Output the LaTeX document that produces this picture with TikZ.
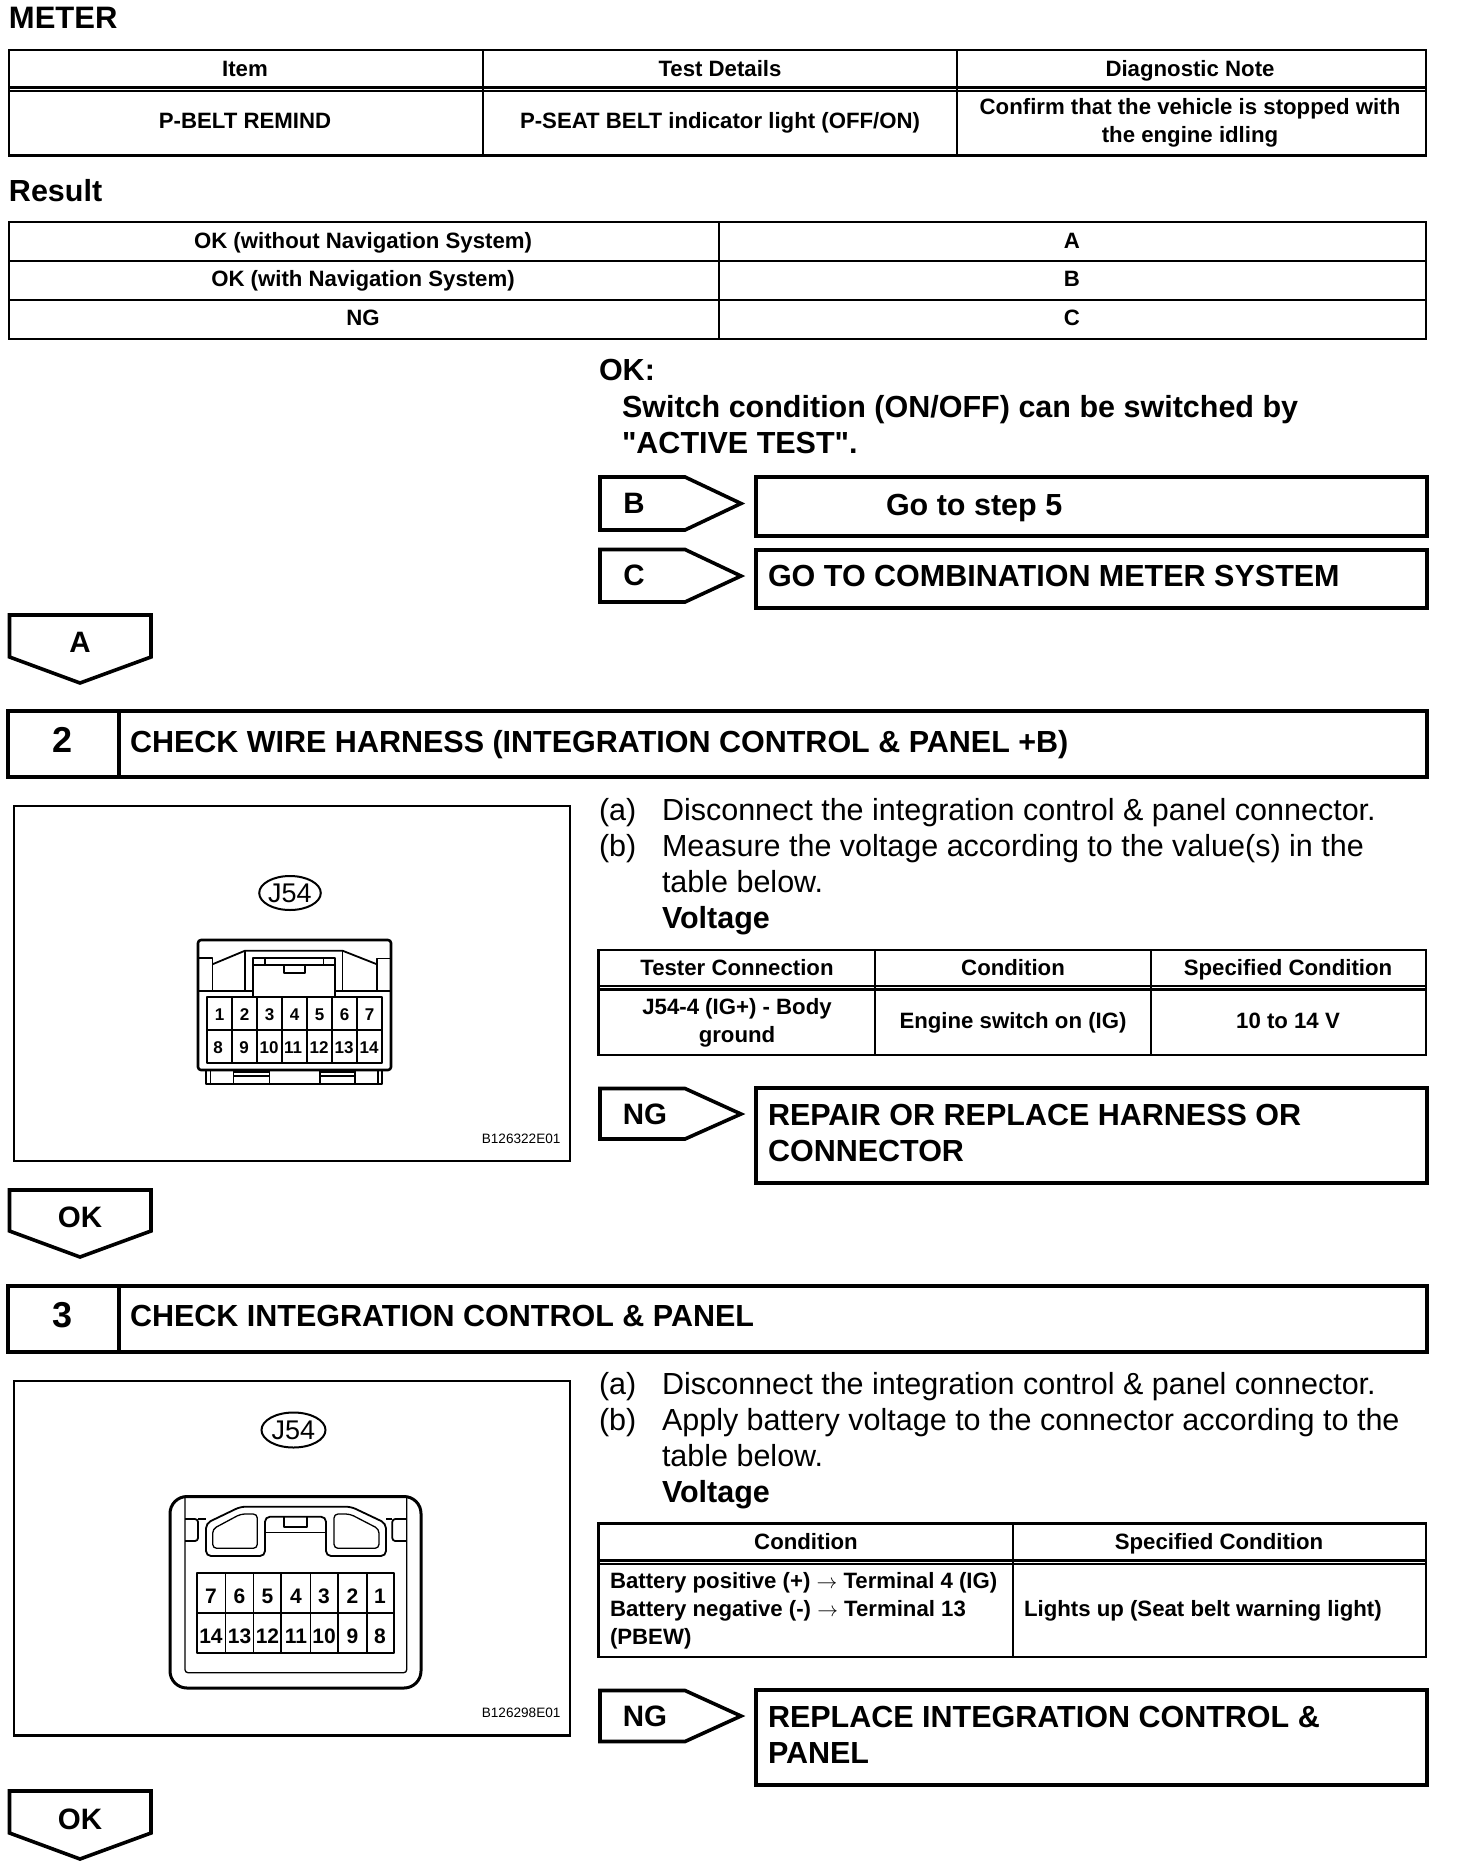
\documentclass[tikz,border=0pt]{standalone}
\usepackage{fontspec}
\setmainfont{Liberation Sans}
\newfontfamily\plainq{Liberation Sans}
\usetikzlibrary{shapes.geometric}
\newcommand{\fs}[1]{\fontsize{#1}{#1}\selectfont}
\tikzset{
  thinln/.style={line width=2.2pt,draw=black},
  heavy/.style={line width=4pt,draw=black,line join=miter},
  flagln/.style={line width=3.6pt,draw=black,line join=miter},
  part/.style={line width=1.8pt,draw=black,line join=round},
  fine/.style={line width=1.3pt,draw=black,line join=round},
  txt/.style={inner sep=0pt,outer sep=0pt,text=black},
  cell/.style={txt,anchor=mid,yshift=-5.2pt,font=\bfseries\fs{22.2},align=center},
  bw/.style={txt,anchor=mid west,yshift=-7.8pt,font=\bfseries\fs{30.5}},
  rw/.style={txt,anchor=mid west,yshift=-7.8pt,font=\fs{30.5}},
  cwl/.style={txt,anchor=mid west,yshift=-4.6pt,font=\bfseries\fs{22.2},align=left},
  flag/.style={txt,anchor=mid,yshift=-7.4pt,font=\bfseries\fs{29.5}},
  pinA/.style={txt,anchor=mid,yshift=-3.5pt,font=\bfseries\fs{17}},
  pinB/.style={txt,anchor=mid,yshift=-5pt,font=\bfseries\fs{21}},
  stepnum/.style={txt,anchor=mid,yshift=-9.5pt,font=\bfseries\fs{36}},
  code/.style={txt,anchor=mid east,yshift=-2pt,font=\fs{13.6}},
  jlabel/.style={ellipse,draw=black,line width=2pt,inner sep=0pt,font=\fs{27},text=black},
}
\begin{document}
\begin{tikzpicture}[x=1pt,y=-1pt]
\useasboundingbox (0,0) rectangle (1456,1876);
\fill[white] (0,0) rectangle (1456,1876);

% --- top table
\node[bw,font=\bfseries\fs{31}] (meter) at (9,18) {METER};
\draw[thinln] (9,50) rectangle (1426,155.5);
\draw[thinln] (9,87.5) -- (1426,87.5) (9,91) -- (1426,91);
\draw[thinln] (483,50) -- (483,155.5) (957,50) -- (957,155.5);
\node[cell] (h1) at (245,68.5) {Item};
\node[cell] (h2) at (720,68.5) {Test Details};
\node[cell] (h3) at (1190,68.5) {Diagnostic Note};
\node[cell] (c1) at (245,121) {P-BELT REMIND};
\node[cell] (c2) at (720,121) {P-SEAT BELT indicator light (OFF/ON)};
\node[cell] (c3a) at (1190,107) {Confirm that the vehicle is stopped with};
\node[cell] (c3b) at (1190,135) {the engine idling};

% --- result table
\node[bw] (result) at (9,191) {Result};
\draw[thinln] (9,222) rectangle (1426,339);
\draw[thinln] (9,261) -- (1426,261) (9,300) -- (1426,300) (719,222) -- (719,339);
\node[cell] (r1) at (363,241) {OK (without Navigation System)};
\node[cell] (r2) at (363,279) {OK (with Navigation System)};
\node[cell] (r3) at (363,318) {NG};
\node[cell] (r1b) at (1072,241) {A};
\node[cell] (r2b) at (1072,279) {B};
\node[cell] (r3b) at (1072,318) {C};

% --- OK note
\node[bw] (ok0) at (599,370) {OK:};
\node[bw] (ok1) at (622,407) {Switch condition (ON/OFF) can be switched by};
\node[bw] (ok2) at (622,443) {{\plainq "}ACTIVE TEST{\plainq "}.};

% --- B, C flags
\draw[flagln] (600,477) -- (685,477) -- (741,503.5) -- (685,530) -- (600,530) -- cycle;
\node[flag] (fb) at (634,503) {B};
\draw[heavy] (755.5,477) rectangle (1427,536);
\node[bw] (gb) at (886,505) {Go to step 5};
\draw[flagln] (600,549.5) -- (685,549.5) -- (741,576) -- (685,602) -- (600,602) -- cycle;
\node[flag] (fc) at (634,575) {C};
\draw[heavy] (755.5,550) rectangle (1427,608);
\node[bw] (gc) at (768,576) {GO TO COMBINATION METER SYSTEM};

% --- A flag
\draw[flagln] (9.5,615) -- (151,615) -- (151,657) -- (80,683) -- (9.5,657) -- cycle;
\node[flag] (fa) at (80,642) {A};

% --- step 2 header
\draw[heavy] (8,711) rectangle (1427,777);
\draw[heavy] (118.5,711) -- (118.5,777);
\node[stepnum] (n2) at (63,740) {2};
\node[bw] (t2) at (130,742) {CHECK WIRE HARNESS (INTEGRATION CONTROL \& PANEL +B)};

% --- connector panel 1
\draw[thinln] (14,806) rectangle (570,1161);
\node[jlabel,minimum width=60pt,minimum height=34pt] (j1) at (290,893) {J54};
\node[code] (k1) at (560.5,1139) {B126322E01};
\draw[line width=2.6pt,line join=round,rounded corners=3pt] (198,1070) -- (198,940) -- (391,940) -- (391,1070) -- cycle;
\draw[part] (206,1070) -- (206,1084) -- (382,1084) -- (382,1070);
\draw[fine] (210.5,1070) -- (210.5,1084) (233.5,1070) -- (233.5,1084) (269.4,1070) -- (269.4,1084) (320,1070) -- (320,1084) (355,1070) -- (355,1084) (378,1070) -- (378,1084)
  (233.5,1072) -- (269.4,1072) (233.5,1076) -- (269.4,1076) (320,1072) -- (355,1072) (320,1076) -- (355,1076);
\draw[part] (198,991) -- (252.6,991) (335,991) -- (391,991);
\draw[part] (198,958.3) -- (212.4,958.3) -- (212.4,991);
\draw[fine] (391,958.3) -- (377,958.3) -- (377,991);
\draw[part] (212.4,964.3) -- (245,950.7) -- (342.5,950.7) -- (377,964.3);
\draw[part] (245,950.7) -- (245,991) (342.5,950.7) -- (342.5,991);
\draw[part] (252.6,996.7) -- (252.6,958.3) -- (335,958.3) -- (335,996.7);
\draw[part] (252.6,965) -- (335,965) (265,958.3) -- (265,965) (323.4,958.3) -- (323.4,965);
\draw[part] (284,966) -- (284,972.7) -- (304.6,972.7) -- (304.6,966);
\draw[part] (206.7,996.7) rectangle (382,1062.7);
\draw[part] (206.7,1030) -- (382,1030);
\foreach \x in {232,257,282,307,332,357} \draw[part] (\x,996.7) -- (\x,1062.7);
\foreach \i/\x in {1/219.5,2/244.5,3/269.5,4/294.5,5/319.5,6/344.5,7/369.5} \node[pinA] (a\i) at (\x,1014) {\i};
\foreach \i/\x in {8/218,9/244,10/269,11/293,12/319,13/344,14/369} \node[pinA] (a\i) at (\x,1047) {\i};

% --- text 2
\node[rw] (a2a) at (599,810) {(a)};
\node[rw] (a2t) at (662,810) {Disconnect the integration control \& panel connector.};
\node[rw] (b2a) at (599,846) {(b)};
\node[rw] (b2t) at (662,846) {Measure the voltage according to the value(s) in the};
\node[rw] (b2u) at (662,882) {table below.};
\node[bw] (v2) at (662,918) {Voltage};
\draw[thinln] (598.5,950) rectangle (1426,1055);
\draw[thinln] (598.5,986) -- (1426,986) (598.5,989.5) -- (1426,989.5) (874.6,950) -- (874.6,1055) (1151,950) -- (1151,1055);
\node[cell] (t1) at (737,968) {Tester Connection};
\node[cell] (t2h) at (1013,968) {Condition};
\node[cell] (t3) at (1288,968) {Specified Condition};
\node[cell] (t4) at (737,1007) {J54-4 (IG+) - Body};
\node[cell] (t4b) at (737,1035) {ground};
\node[cell] (t5) at (1013,1021) {Engine switch on (IG)};
\node[cell] (t6) at (1288,1021) {10 to 14 V};
\draw[flagln] (600,1088.5) -- (685,1088.5) -- (741,1114) -- (685,1139) -- (600,1139) -- cycle;
\node[flag] (fn1) at (645,1114) {NG};
\draw[heavy] (755.5,1088) rectangle (1427,1183);
\node[bw] (rp1) at (768,1115) {REPAIR OR REPLACE HARNESS OR};
\node[bw] (rp2) at (768,1151) {CONNECTOR};

% --- OK flag 1
\draw[flagln] (9.5,1190) -- (151,1190) -- (151,1231) -- (80,1257) -- (9.5,1231) -- cycle;
\node[flag] (fo1) at (80,1217) {OK};

% --- step 3 header
\draw[heavy] (8,1286) rectangle (1427,1352);
\draw[heavy] (118.5,1286) -- (118.5,1352);
\node[stepnum] (n3) at (63,1315) {3};
\node[bw] (t3h) at (130,1316) {CHECK INTEGRATION CONTROL \& PANEL};

% --- connector panel 2
\draw[thinln] (14,1381) rectangle (570,1735.5);
\node[jlabel,minimum width=64pt,minimum height=35pt] (j2) at (293.5,1430) {J54};
\node[code] (k2) at (560.5,1713) {B126298E01};
\draw[line width=3pt,rounded corners=17pt] (170,1496.5) rectangle (421,1688);
\draw[fine,rounded corners=3pt] (185,1496) -- (185,1672.7) -- (406.7,1672.7) -- (406.7,1496);
\draw[part,rounded corners=3pt] (185,1519) -- (198,1519) -- (198,1541) -- (185,1541);
\draw[part] (198,1519) -- (206,1519) (392.3,1519) -- (385.8,1519);
\draw[part,rounded corners=3pt] (406.7,1519) -- (392.3,1519) -- (392.3,1541) -- (406.7,1541);
\draw[part,rounded corners=5pt] (206,1523.3) -- (240.5,1506.7) -- (351,1506.7) -- (386,1523.3) -- (386,1556) -- (326,1556) -- (326,1516.7) -- (265,1516.7) -- (265,1556) -- (206,1556) -- cycle;
\draw[fine,rounded corners=4pt] (212.7,1529) -- (240.7,1514) -- (257.3,1514) -- (257.3,1548.3) -- (212.7,1548.3) -- cycle;
\draw[fine,rounded corners=4pt] (379,1529) -- (350,1514) -- (334,1514) -- (334,1548.3) -- (379,1548.3) -- cycle;
\draw[fine] (265,1532.3) -- (326,1532.3);
\draw[part] (284,1516.7) -- (284,1527.3) -- (307.3,1527.3) -- (307.3,1516.7);
\draw[part] (197,1572.7) rectangle (394,1653.3);
\draw[part] (197,1612.7) -- (394,1612.7);
\foreach \x in {225.4,253.4,281.3,310.4,338.3,366.6} \draw[part] (\x,1572.7) -- (\x,1653.3);
\foreach \i/\x in {7/211,6/239.5,5/267.5,4/296,3/324,2/352.5,1/380} \node[pinB] (b\i) at (\x,1596) {\i};
\foreach \i/\x in {14/211,13/239.5,12/267.5,11/296,10/324,9/352.5,8/380} \node[pinB] (b\i) at (\x,1636) {\i};

% --- text 3
\node[rw] (a3a) at (599,1384) {(a)};
\node[rw] (a3t) at (662,1384) {Disconnect the integration control \& panel connector.};
\node[rw] (b3a) at (599,1420) {(b)};
\node[rw] (b3t) at (662,1420) {Apply battery voltage to the connector according to the};
\node[rw] (b3u) at (662,1456) {table below.};
\node[bw] (v3) at (662,1492) {Voltage};
\draw[thinln] (598.5,1523.5) rectangle (1426,1657);
\draw[thinln] (598.5,1560.5) -- (1426,1560.5) (598.5,1564) -- (1426,1564) (1013,1523.5) -- (1013,1657);
\node[cell] (u1) at (806,1542) {Condition};
\node[cell] (u2) at (1219,1542) {Specified Condition};
\node[cwl] (u3) at (610,1581) {Battery positive (+) $\rightarrow$ Terminal 4 (IG)};
\node[cwl] (u4) at (610,1609) {Battery negative (-) $\rightarrow$ Terminal 13};
\node[cwl] (u5) at (610,1637) {(PBEW)};
\node[cwl] (u6) at (1024,1609) {Lights up (Seat belt warning light)};
\draw[flagln] (600,1690.5) -- (685,1690.5) -- (741,1716) -- (685,1741.5) -- (600,1741.5) -- cycle;
\node[flag] (fn2) at (645,1716) {NG};
\draw[heavy] (755.5,1690) rectangle (1427,1785);
\node[bw] (rp3) at (768,1717) {REPLACE INTEGRATION CONTROL \&};
\node[bw] (rp4) at (768,1753) {PANEL};

% --- OK flag 2
\draw[flagln] (9.5,1791) -- (151,1791) -- (151,1833) -- (80,1859) -- (9.5,1833) -- cycle;
\node[flag] (fo2) at (80,1819) {OK};
\end{tikzpicture}
\end{document}
